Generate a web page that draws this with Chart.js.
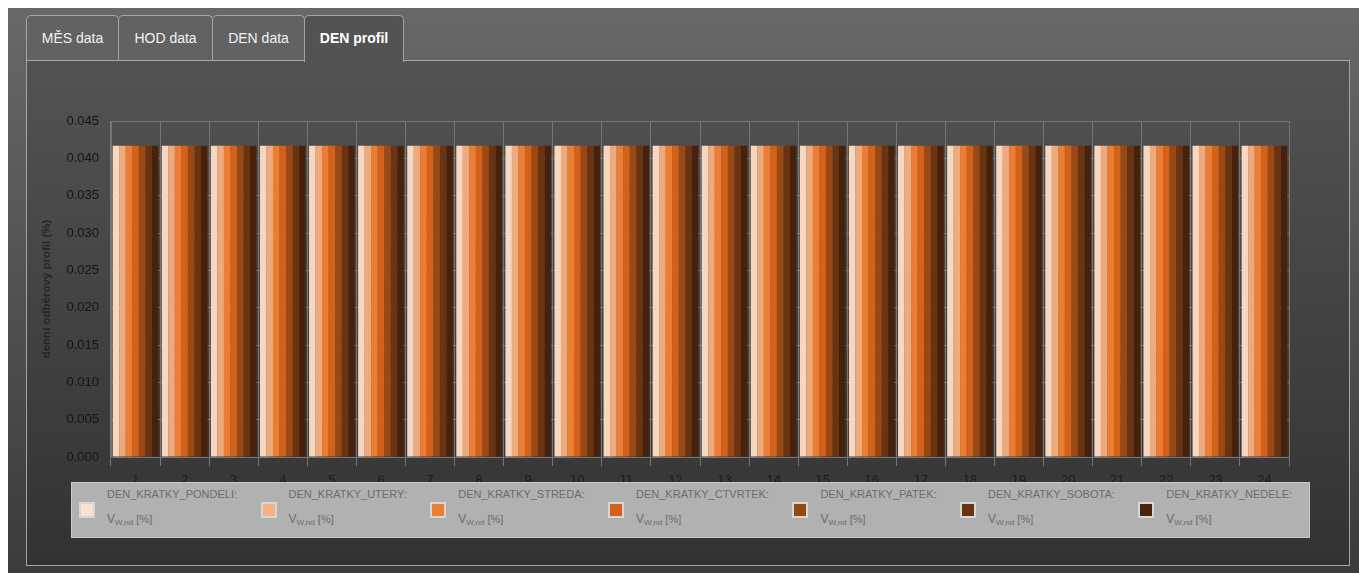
<!DOCTYPE html>
<html>
<head>
<meta charset="utf-8">
<script src="https://cdn.jsdelivr.net/npm/chart.js@4"></script>
<style>
  html, body { margin: 0; padding: 0; background: #ffffff; width: 1359px; height: 573px; overflow: hidden; font-family: "Liberation Sans", Arial, sans-serif; }
  #outer { position: absolute; left: 8px; top: 8px; width: 1351px; height: 565px; background: linear-gradient(#686868, #3b3b3b); }
  .tab { position: absolute; top: 15px; height: 45px; box-sizing: border-box; border: 1px solid #a3a3a3; border-bottom: none; border-radius: 5px 5px 0 0; background: #626262; color: #f2f2f2; font-size: 14px; line-height: 44px; text-align: center; }
  .tab.active { height: 47px; background: #535353; color: #ffffff; font-weight: bold; z-index: 3; }
  #panel { position: absolute; left: 26px; top: 60px; width: 1324px; height: 506px; box-sizing: border-box; border: 1px solid #a5a5a5; background: linear-gradient(#535353, #323232); z-index: 2; }
  #chartBox { position: absolute; left: 27px; top: 61px; width: 1321px; height: 502px; z-index: 4; }
  #legend { position: absolute; left: 71px; top: 482px; width: 1239px; height: 56px; box-sizing: border-box; background: #b1b1b1; border: 1px solid #c9c9c9; z-index: 5; display: flex; align-items: center; padding-left: 7px; }
  .item { display: flex; align-items: center; margin-right: 23.5px; }
  .sq { width: 16px; height: 16px; box-sizing: border-box; border: 2px solid #d6d6d6; }
  .txt { margin-left: 12px; color: #6c6c6c; font-size: 11px; line-height: 25px; margin-top: -3px; white-space: nowrap; }
  .txt .v { font-size: 12px; }
  .txt sub { font-size: 8px; vertical-align: -2px; }
</style>
</head>
<body>
<div id="outer"></div>
<div class="tab" style="left:26px;width:93px;">MĚS data</div>
<div class="tab" style="left:118px;width:95px;">HOD data</div>
<div class="tab" style="left:212px;width:93px;">DEN data</div>
<div class="tab active" style="left:304px;width:100px;">DEN profil</div>
<div id="panel"></div>
<div id="chartBox"><canvas id="c" width="1321" height="502"></canvas></div>
<div id="legend"></div>
<script>
const categories = ['1','2','3','4','5','6','7','8','9','10','11','12','13','14','15','16','17','18','19','20','21','22','23','24'];
const seriesNames = ['DEN_KRATKY_PONDELI:','DEN_KRATKY_UTERY:','DEN_KRATKY_STREDA:','DEN_KRATKY_CTVRTEK:','DEN_KRATKY_PATEK:','DEN_KRATKY_SOBOTA:','DEN_KRATKY_NEDELE:'];
const pondeli = [0.0417,0.0417,0.0417,0.0417,0.0417,0.0417,0.0417,0.0417,0.0417,0.0417,0.0417,0.0417,0.0417,0.0417,0.0417,0.0417,0.0417,0.0417,0.0417,0.0417,0.0417,0.0417,0.0417,0.0417];
const utery   = [0.0417,0.0417,0.0417,0.0417,0.0417,0.0417,0.0417,0.0417,0.0417,0.0417,0.0417,0.0417,0.0417,0.0417,0.0417,0.0417,0.0417,0.0417,0.0417,0.0417,0.0417,0.0417,0.0417,0.0417];
const streda  = [0.0417,0.0417,0.0417,0.0417,0.0417,0.0417,0.0417,0.0417,0.0417,0.0417,0.0417,0.0417,0.0417,0.0417,0.0417,0.0417,0.0417,0.0417,0.0417,0.0417,0.0417,0.0417,0.0417,0.0417];
const ctvrtek = [0.0417,0.0417,0.0417,0.0417,0.0417,0.0417,0.0417,0.0417,0.0417,0.0417,0.0417,0.0417,0.0417,0.0417,0.0417,0.0417,0.0417,0.0417,0.0417,0.0417,0.0417,0.0417,0.0417,0.0417];
const patek   = [0.0417,0.0417,0.0417,0.0417,0.0417,0.0417,0.0417,0.0417,0.0417,0.0417,0.0417,0.0417,0.0417,0.0417,0.0417,0.0417,0.0417,0.0417,0.0417,0.0417,0.0417,0.0417,0.0417,0.0417];
const sobota  = [0.0417,0.0417,0.0417,0.0417,0.0417,0.0417,0.0417,0.0417,0.0417,0.0417,0.0417,0.0417,0.0417,0.0417,0.0417,0.0417,0.0417,0.0417,0.0417,0.0417,0.0417,0.0417,0.0417,0.0417];
const nedele  = [0.0417,0.0417,0.0417,0.0417,0.0417,0.0417,0.0417,0.0417,0.0417,0.0417,0.0417,0.0417,0.0417,0.0417,0.0417,0.0417,0.0417,0.0417,0.0417,0.0417,0.0417,0.0417,0.0417,0.0417];
const seriesValues = [pondeli, utery, streda, ctvrtek, patek, sobota, nedele];
const barColors = ['#f9d7be','#eeaa7c','#ed7d31','#d2621a','#9a4915','#6a3412','#47210b'];
const legendColors = ['#fde2cf','#f4b183','#ed7d31','#d2601a','#9a4613','#6b3310','#4d230b'];
const yTicks = [0, 0.005, 0.01, 0.015, 0.02, 0.025, 0.03, 0.035, 0.04, 0.045];
const yTitle = 'denní odběrový profil (%)';

const FONT = '"Liberation Sans", Arial, sans-serif';
const gridColor = '#767676';

new Chart(document.getElementById('c'), {
  type: 'bar',
  data: {
    labels: categories,
    datasets: seriesValues.map((vals, i) => ({
      label: seriesNames[i],
      data: vals,
      backgroundColor: barColors[i],
      borderWidth: 0,
      categoryPercentage: 0.93,
      barPercentage: 1.0
    }))
  },
  options: {
    responsive: false,
    animation: false,
    layout: { padding: { top: 60, right: 59, left: 0, bottom: 0 } },
    plugins: { legend: { display: false }, tooltip: { enabled: false } },
    scales: {
      x: {
        offset: true,
        grid: { color: gridColor, offset: true, tickLength: 9, drawTicks: true },
        border: { color: gridColor },
        ticks: { color: '#1c1c1c', font: { family: FONT, size: 13 }, padding: 7, maxRotation: 0, autoSkip: false },
        afterFit: s => { s.height = 106; }
      },
      y: {
        min: 0, max: 0.045,
        afterBuildTicks: s => { s.ticks = yTicks.map(v => ({ value: v })); },
        grid: { color: gridColor, drawTicks: false },
        border: { color: gridColor },
        ticks: { color: '#151515', font: { family: FONT, size: 13 }, padding: 12, callback: v => Number(v).toFixed(3) },
        title: { display: true, text: yTitle, color: '#262626', font: { family: FONT, size: 11.5, weight: 'bold' }, padding: { top: 13, bottom: 0 } },
        afterFit: s => { s.width = 84; }
      }
    }
  }
});

const legend = document.getElementById('legend');
seriesNames.forEach((name, i) => {
  const item = document.createElement('div');
  item.className = 'item';
  const sq = document.createElement('div');
  sq.className = 'sq';
  sq.style.background = legendColors[i];
  const txt = document.createElement('div');
  txt.className = 'txt';
  const l1 = document.createElement('div');
  l1.textContent = name;
  const l2 = document.createElement('div');
  l2.innerHTML = '<span class="v">V</span><sub>W,nd</sub> [%]';
  txt.appendChild(l1); txt.appendChild(l2);
  item.appendChild(sq); item.appendChild(txt);
  legend.appendChild(item);
});
</script>
</body>
</html>
